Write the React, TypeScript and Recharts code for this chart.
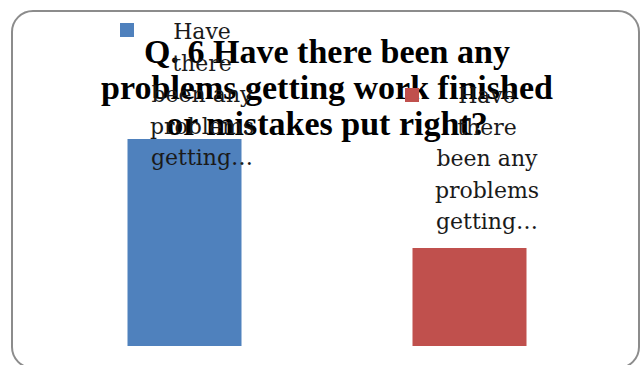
import { BarChart, Bar, XAxis, YAxis, Cell } from 'recharts'

// one category per bar, both series share the same (truncated) name
const categories = ['Have there been any problems getting…', 'Have there been any problems getting… ']
const values = [19, 9]
const colors = ['#4F81BD', '#C0504D']
const legendLines = ['Have', 'there', 'been any', 'problems', 'getting…']

const title = ['Q. 6 Have there been any', 'problems getting work finished', 'or mistakes put right?']

const chartData = categories.map((name, i) => ({ name, value: values[i] }))

// legend placement (marker top-left, text block centre)
const legendPos = [
  { mx: 120, my: 23, cx: 202, ty: 16 },
  { mx: 405, my: 88, cx: 487, ty: 80 },
]

export default function App() {
  return (
    <div style={{ position: 'absolute', left: 0, top: 0, width: 640, height: 365, overflow: 'hidden', background: '#fff' }}>
      <div
        style={{
          position: 'absolute',
          left: 11,
          top: 10,
          width: 625,
          height: 355,
          border: '2px solid #8c8c8c',
          borderRadius: 22,
        }}
      />
      <div style={{ position: 'absolute', left: 0, top: 0 }}>
        <BarChart
          width={640}
          height={365}
          data={chartData}
          margin={{ top: 41, right: 28.5, left: 41.5, bottom: 19 }}
        >
          <XAxis dataKey="name" hide />
          <YAxis hide domain={[0, 28]} />
          <Bar dataKey="value" barSize={114} isAnimationActive={false}>
            {chartData.map((entry, i) => (
              <Cell key={`cell-${i}`} fill={colors[i]} />
            ))}
          </Bar>
        </BarChart>
      </div>
      <div
        style={{
          position: 'absolute',
          left: 0,
          width: 654,
          top: 34,
          textAlign: 'center',
          fontFamily: '"Liberation Serif", serif',
          fontWeight: 'bold',
          fontSize: 34,
          lineHeight: '36px',
          color: '#000',
        }}
      >
        {title.map((t) => (
          <div key={t}>{t}</div>
        ))}
      </div>
      {legendPos.map((p, i) => (
        <div key={i}>
          <div
            style={{
              position: 'absolute',
              left: p.mx,
              top: p.my,
              width: 14,
              height: 14,
              background: colors[i],
            }}
          />
          <div
            style={{
              position: 'absolute',
              left: p.cx - 70,
              width: 140,
              top: p.ty,
              textAlign: 'center',
              fontFamily: '"DejaVu Serif", serif',
              fontSize: 22,
              lineHeight: '31.5px',
              color: '#1a1a1a',
            }}
          >
            {legendLines.map((l) => (
              <div key={l}>{l}</div>
            ))}
          </div>
        </div>
      ))}
    </div>
  )
}
